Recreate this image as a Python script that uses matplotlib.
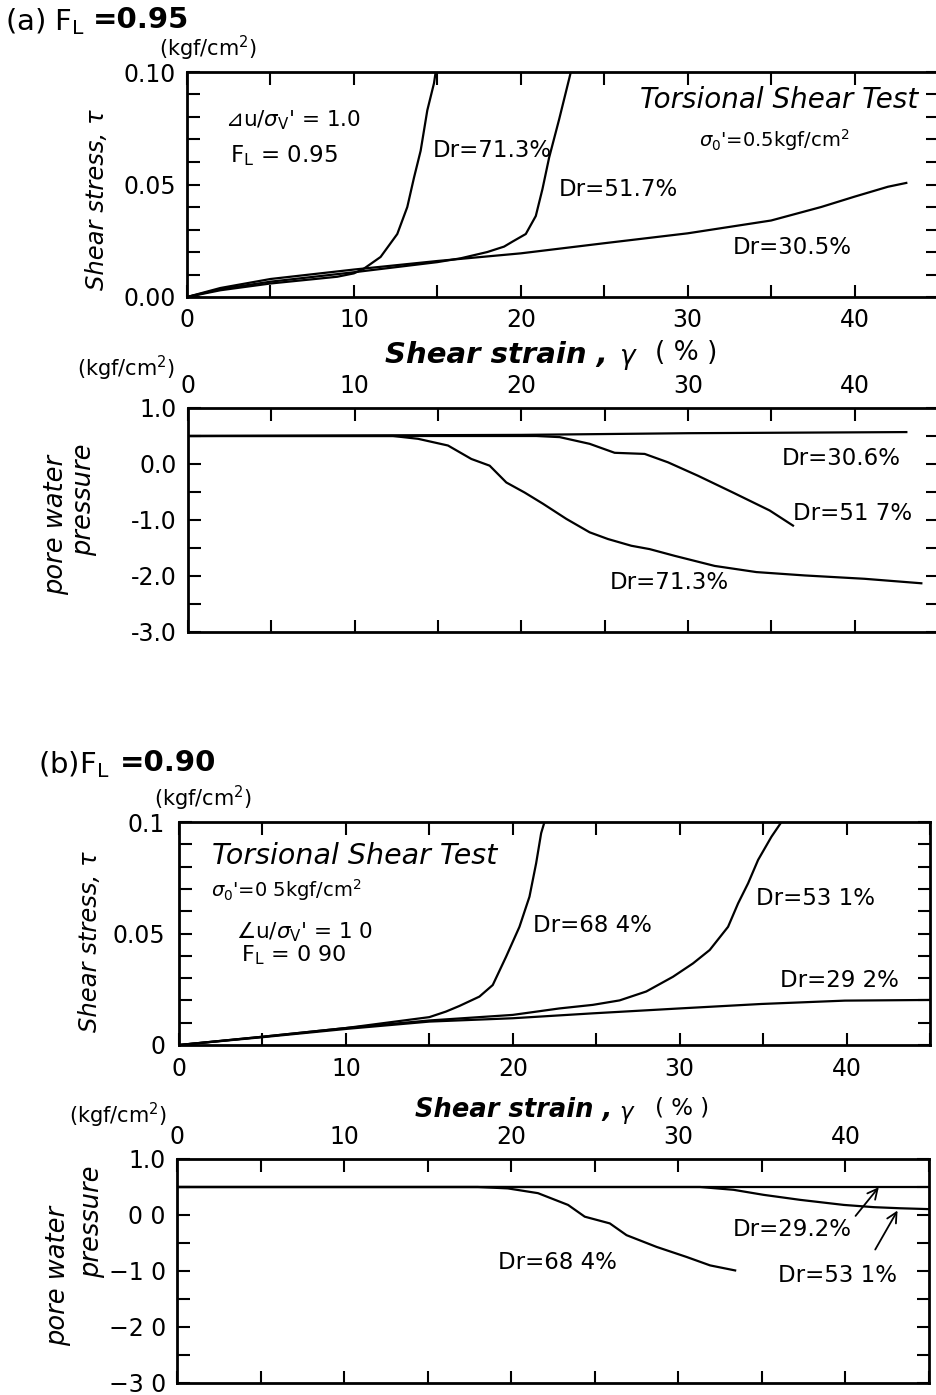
import matplotlib
matplotlib.use("Agg")
import matplotlib.pyplot as plt
from matplotlib.ticker import MultipleLocator, FixedLocator, FixedFormatter

plt.rcParams['font.family'] = ['DejaVu Sans']
plt.rcParams['mathtext.fontset'] = 'dejavusans'

# ---------------- data: panel (a) F_L = 0.95 ----------------
# shear stress (kgf/cm2) vs shear strain (%)
strain_a71 = [0, 2, 5, 9, 10, 10.6, 11.6, 12.6, 13.2, 13.6, 14.0, 14.4, 14.8, 14.9]
tau_a71 = [0, 0.003, 0.006, 0.009, 0.0105, 0.0126, 0.0178, 0.028, 0.040, 0.053, 0.065, 0.083, 0.095, 0.100]
strain_a52 = [0, 2, 5, 10, 15, 16.4, 18, 19, 19.5, 20.3, 20.9, 21.3, 21.7, 22.3, 22.7, 23.0]
tau_a52 = [0, 0.0035, 0.0068, 0.011, 0.0155, 0.0172, 0.020, 0.0224, 0.0246, 0.028, 0.036, 0.048, 0.062, 0.079, 0.091, 0.100]
strain_a30 = [0, 2, 5, 10, 15, 20, 25, 30, 35, 38, 40, 42, 43.1]
tau_a30 = [0, 0.004, 0.008, 0.0122, 0.016, 0.0194, 0.0239, 0.0283, 0.034, 0.040, 0.0446, 0.049, 0.0507]
# pore water pressure (kgf/cm2) vs shear strain (%)
strain_pa30 = [0, 10, 20, 30, 43.1]
pw_pa30 = [0.5, 0.51, 0.52, 0.55, 0.57]
strain_pa71 = [0, 12.3, 13.8, 15.6, 17.0, 18.1, 19.1, 20.2, 21.3, 22.7, 24.1, 25.2, 26.6, 27.7, 29.2,
               31.6, 34.1, 37.0, 40.6, 44.0]
pw_pa71 = [0.5, 0.5, 0.45, 0.33, 0.09, -0.03, -0.33, -0.51, -0.71, -0.98, -1.22, -1.34, -1.46, -1.52, -1.64,
           -1.82, -1.93, -1.99, -2.05, -2.13]
strain_pa52 = [0, 20.9, 22.3, 24.1, 25.6, 27.4, 28.8, 30.6, 32.7, 34.9, 36.3]
pw_pa52 = [0.5, 0.5, 0.48, 0.36, 0.20, 0.18, 0.03, -0.21, -0.51, -0.83, -1.10]

# ---------------- data: panel (b) F_L = 0.90 ----------------
strain_b68 = [0, 5, 10, 15, 16.0, 16.8, 18.0, 18.8, 19.6, 20.4, 21.0, 21.4, 21.7, 21.9]
tau_b68 = [0, 0.0037, 0.0076, 0.0125, 0.015, 0.0175, 0.0217, 0.0269, 0.0396, 0.053, 0.0665, 0.0815, 0.095, 0.100]
strain_b53 = [0, 5, 10, 15, 20, 22.8, 24.8, 26.4, 28.0, 29.6, 30.8, 31.8, 32.9, 33.5, 34.1, 34.7, 35.5, 36.1]
tau_b53 = [0, 0.0037, 0.0076, 0.011, 0.0135, 0.0164, 0.018, 0.020, 0.024, 0.0306, 0.0366, 0.0426, 0.053,
           0.0635, 0.0725, 0.083, 0.0934, 0.100]
strain_b29 = [0, 5, 10, 15, 20, 24.8, 30, 34.9, 39.9, 45]
tau_b29 = [0, 0.0035, 0.0072, 0.0105, 0.012, 0.0142, 0.0164, 0.0184, 0.0199, 0.0202]
strain_pb29 = [0, 45]
pw_pb29 = [0.5, 0.5]
strain_pb53 = [0, 31.3, 33.3, 35.1, 37.3, 39.9, 41.7, 43.3, 45]
pw_pb53 = [0.5, 0.5, 0.45, 0.36, 0.27, 0.18, 0.14, 0.12, 0.105]
strain_pb68 = [0, 18.0, 19.8, 21.6, 23.4, 24.4, 25.9, 26.9, 28.7, 30.5, 31.9, 33.4]
pw_pb68 = [0.5, 0.5, 0.475, 0.39, 0.18, -0.03, -0.15, -0.36, -0.57, -0.75, -0.90, -0.99]

# tick labels
xticks = [0, 10, 20, 30, 40]
tau_ticks_a = ["0.00", "0.05", "0.10"]
tau_ticks_b = ["0", "0.05", "0.1"]
pw_ticks = [1.0, 0.0, -1.0, -2.0, -3.0]
pw_labels_a = ["1.0", "0.0", "-1.0", "-2.0", "-3.0"]
pw_labels_b = ["1.0", "0 0", "\u22121 0", "\u22122 0", "\u22123 0"]

W, H = 936, 1395
fig = plt.figure(figsize=(W / 100, H / 100), dpi=100)


def rect(l, t, r, b):
    return [l / W, 1 - b / H, (r - l) / W, (b - t) / H]


def fx(x):
    return x / W


def fy(y):
    return 1 - y / H


def style(ax, top_labels=False, ylim=(0, 0.1), yt=None, ylab=None, yminor=0.01, ypad=8, xpad=7):
    ax.set_xlim(0, 45)
    ax.set_ylim(*ylim)
    ax.xaxis.set_major_locator(FixedLocator(xticks))
    ax.xaxis.set_minor_locator(MultipleLocator(5))
    ax.yaxis.set_major_locator(FixedLocator(yt))
    ax.yaxis.set_major_formatter(FixedFormatter(ylab))
    ax.yaxis.set_minor_locator(MultipleLocator(yminor))
    ax.tick_params(which='both', direction='in', top=True, right=True, length=9, width=1.5)
    ax.tick_params(axis='y', labelsize=17, pad=ypad)
    ax.tick_params(axis='x', labelsize=17, pad=xpad)
    if top_labels:
        ax.tick_params(axis='x', labeltop=True, labelbottom=False)
    for s in ax.spines.values():
        s.set_linewidth(2)


LW = 1.6
TXT = 16.5

# ---------- (a) upper ----------
ax = fig.add_axes(rect(187, 72, 938, 297))
ax.plot(strain_a71, tau_a71, color='black', lw=LW)
ax.plot(strain_a52, tau_a52, color='black', lw=LW)
ax.plot(strain_a30, tau_a30, color='black', lw=LW)
style(ax, yt=[0, 0.05, 0.10], ylab=tau_ticks_a, ypad=8, xpad=8)
ax.text(2.3, 0.0787, "\u22bfu/$\\sigma_{\\mathrm{V}}$' = 1.0", fontsize=15.5, va='center')
ax.text(2.6, 0.063, "F$_\\mathrm{L}$ = 0.95", fontsize=16.5, va='center')
ax.text(14.7, 0.0653, "Dr=71.3%", fontsize=TXT, va='center')
ax.text(22.3, 0.0476, "Dr=51.7%", fontsize=TXT, va='center')
ax.text(32.7, 0.0218, "Dr=30.5%", fontsize=TXT, va='center')
ax.text(43.8, 0.0876, "Torsional Shear Test", fontsize=20, style='italic', ha='right', va='center')
ax.text(30.7, 0.0698, "$\\sigma_{0}$'=0.5kgf/cm$^2$", fontsize=14, va='center')

# ---------- (a) lower ----------
ax = fig.add_axes(rect(188, 408, 938, 632))
ax.plot(strain_pa30, pw_pa30, color='black', lw=LW)
ax.plot(strain_pa71, pw_pa71, color='black', lw=LW)
ax.plot(strain_pa52, pw_pa52, color='black', lw=LW)
style(ax, top_labels=True, ylim=(-3, 1), yt=pw_ticks, ylab=pw_labels_a, yminor=0.5, ypad=8, xpad=7)
ax.text(35.6, 0.10, "Dr=30.6%", fontsize=TXT, va='center')
ax.text(36.3, -0.89, "Dr=51 7%", fontsize=TXT, va='center')
ax.text(25.3, -2.12, "Dr=71.3%", fontsize=TXT, va='center')

# ---------- (b) upper ----------
ax = fig.add_axes(rect(179, 822, 930, 1045))
ax.plot(strain_b68, tau_b68, color='black', lw=LW)
ax.plot(strain_b53, tau_b53, color='black', lw=LW)
ax.plot(strain_b29, tau_b29, color='black', lw=LW)
style(ax, yt=[0, 0.05, 0.1], ylab=tau_ticks_b, ypad=10, xpad=9)
ax.text(2.0, 0.0848, "Torsional Shear Test", fontsize=20.5, style='italic', va='center')
ax.text(1.9, 0.0695, "$\\sigma_{0}$'=0 5kgf/cm$^2$", fontsize=14, va='center')
ax.text(3.4, 0.0507, "\u2220u/$\\sigma_{\\mathrm{V}}$' = 1 0", fontsize=15.5, va='center')
ax.text(3.7, 0.0404, "F$_\\mathrm{L}$ = 0 90", fontsize=16, va='center')
ax.text(21.2, 0.0538, "Dr=68 4%", fontsize=TXT, va='center')
ax.text(34.6, 0.0659, "Dr=53 1%", fontsize=TXT, va='center')
ax.text(36.0, 0.0287, "Dr=29 2%", fontsize=TXT, va='center')

# ---------- (b) lower ----------
ax = fig.add_axes(rect(177, 1159, 929, 1383))
ax.plot(strain_pb29, pw_pb29, color='black', lw=LW)
ax.plot(strain_pb53, pw_pb53, color='black', lw=LW)
ax.plot(strain_pb68, pw_pb68, color='black', lw=LW)
style(ax, top_labels=True, ylim=(-3, 1), yt=pw_ticks, ylab=pw_labels_b, yminor=0.5, ypad=8, xpad=7)
ax.text(22.75, -0.84, "Dr=68 4%", fontsize=TXT, ha='center', va='center')
ax.text(36.8, -0.25, "Dr=29.2%", fontsize=TXT, ha='center', va='center')
ax.text(39.5, -1.08, "Dr=53 1%", fontsize=TXT, ha='center', va='center')
ax.annotate("", xy=(42.1, 0.535), xytext=(40.5, -0.055),
            arrowprops=dict(arrowstyle='->', lw=1.3, color='black', mutation_scale=18))
ax.annotate("", xy=(43.2, 0.123), xytext=(41.7, -0.66),
            arrowprops=dict(arrowstyle='->', lw=1.3, color='black', mutation_scale=18))

# ---------- figure-level labels ----------
fig.text(fx(5), fy(22), "(a) F$_\\mathregular{L}$", fontsize=21, va='center', ha='left')
fig.text(fx(93), fy(20), "=0.95", fontsize=21, weight='bold', va='center', ha='left')
fig.text(fx(38), fy(765), "(b)F$_\\mathregular{L}$", fontsize=21, va='center', ha='left')
fig.text(fx(120), fy(763), "=0.90", fontsize=21, weight='bold', va='center', ha='left')

for (x, y) in [(208, 48), (126, 368), (203, 798), (118, 1115)]:
    fig.text(fx(x), fy(y), "(kgf/cm$^2$)", fontsize=15, ha='center', va='center')

for (x, y) in [(97, 200), (90, 942)]:
    fig.text(fx(x), fy(y), "Shear stress, \u03c4", fontsize=17.5, style='italic', rotation=90,
             ha='center', va='center')

for (x1, y1, x2, y2) in [(56, 525, 84, 500), (58, 1276, 92, 1222)]:
    fig.text(fx(x1), fy(y1), "pore water", fontsize=18.5, style='italic', rotation=90, ha='center', va='center')
    fig.text(fx(x2), fy(y2), "pressure", fontsize=18.5, style='italic', rotation=90, ha='center', va='center')

for (xs, y, fs) in [(385, 355, 21), (415, 1110, 18.5)]:
    fig.text(fx(xs), fy(y), "Shear strain ,", fontsize=fs, style='italic', weight='bold', ha='left', va='center')
    fig.text(fx(619), fy(y + 2), "\u03b3", fontsize=fs - 2, style='italic', ha='left', va='center')
    fig.text(fx(655), fy(y - 2), "( % )", fontsize=fs - 2, ha='left', va='center')

fig.savefig("out.png", dpi=100)
